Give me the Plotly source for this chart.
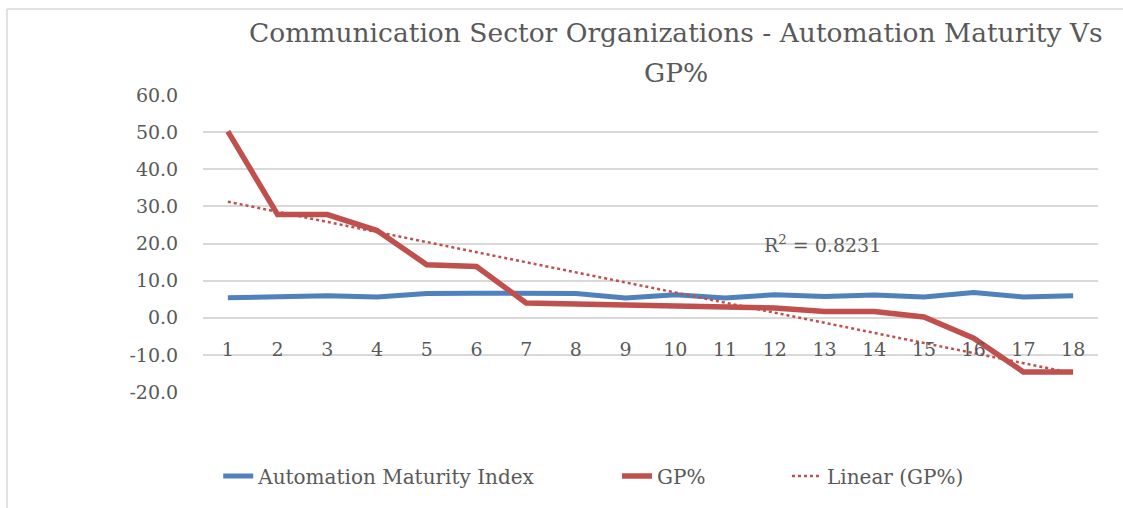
import numpy as np
import plotly.graph_objects as go

# <data>
orgs = list(range(1, 19))
automation_index = [5.4, 5.6, 5.9, 5.6, 6.5, 6.6, 6.6, 6.5, 5.3, 6.2, 5.3, 6.2, 5.7, 6.1, 5.6, 6.8, 5.6, 5.9]
gp_pct = [50.2, 27.8, 27.8, 23.5, 14.3, 13.8, 4.0, 3.7, 3.6, 3.4, 3.1, 2.6, 1.7, 1.7, 0.2, -5.5, -14.6, -14.6]
y_ticks = [60, 50, 40, 30, 20, 10, 0, -10, -20]
title_lines = ['Communication Sector Organizations - Automation Maturity Vs', 'GP%']
r2_label = "R<sup>2</sup> = 0.8231"
# </data>

BLUE = '#4f81bd'
RED = '#c0504d'
GRID = '#d9d9d9'
TXT = '#595959'
FONT = 'DejaVu Serif'

# linear trend line of GP%, fitted from the data
slope, icpt = np.polyfit(orgs, gp_pct, 1)
trend = [slope * x + icpt for x in orgs]

fig = go.Figure()
fig.add_trace(go.Scatter(x=orgs, y=automation_index, mode='lines', name='Automation Maturity Index',
                         line=dict(color=BLUE, width=5), legend='legend'))
fig.add_trace(go.Scatter(x=orgs, y=gp_pct, mode='lines', name='GP%',
                         line=dict(color=RED, width=5.5), legend='legend2'))
fig.add_trace(go.Scatter(x=orgs, y=trend, mode='lines', name='Linear (GP%)',
                         line=dict(color=RED, width=2.5, dash='dot'), legend='legend3'))

legend_common = dict(orientation='h', y=-0.283, yanchor='middle', xanchor='left',
                     font=dict(family=FONT, size=20, color=TXT), bgcolor='rgba(0,0,0,0)')

fig.update_layout(
    width=1123, height=508,
    autosize=False,
    paper_bgcolor='white',
    plot_bgcolor='white',
    margin=dict(l=203, r=25, t=95, b=116),
    font=dict(family=FONT, color=TXT),
    xaxis=dict(
        range=[0.5, 18.5],
        tickmode='array', tickvals=orgs, ticktext=[str(o) for o in orgs],
        showgrid=False, zeroline=False, showline=False,
        anchor='free', position=0.25,
        ticks='outside', ticklen=14, tickcolor='rgba(0,0,0,0)',
        tickfont=dict(family=FONT, size=19, color=TXT),
    ),
    yaxis=dict(
        range=[-20, 60],
        tickmode='array', tickvals=y_ticks, ticktext=[f'{v:.1f}' for v in y_ticks],
        showgrid=True, gridcolor=GRID, gridwidth=1.5,
        zeroline=True, zerolinecolor=GRID, zerolinewidth=1.5,
        showline=False,
        ticks='outside', ticklen=20, tickcolor='rgba(0,0,0,0)',
        tickfont=dict(family=FONT, size=19, color=TXT),
    ),
    legend=dict(x=0.017, **legend_common),
    legend2=dict(x=0.4626, **legend_common),
    legend3=dict(x=0.6525, **legend_common),
    showlegend=True,
)

# title, two lines as in the original
for txt, ypos in zip(title_lines, [1.2088, 1.0774]):
    fig.add_annotation(x=0.5285, y=ypos, xref='paper', yref='paper', text=txt, showarrow=False,
                       xanchor='center', yanchor='middle',
                       font=dict(family=FONT, size=26.5, color=TXT))

fig.add_annotation(x=12.95, y=20, xref='x', yref='y', text=r2_label, showarrow=False,
                   xanchor='center', yanchor='middle',
                   font=dict(family=FONT, size=19, color=TXT))

# chart frame (top and left edges visible)
fig.add_shape(type='line', xref='paper', yref='paper', x0=-0.219, x1=1.03, y0=1.2896, y1=1.2896,
              line=dict(color=GRID, width=1.5))
fig.add_shape(type='line', xref='paper', yref='paper', x0=-0.219, x1=-0.219, y0=1.2896, y1=-0.4,
              line=dict(color=GRID, width=1.5))

fig.write_html("out.html", config={'displayModeBar': False},
               post_script="document.body.style.margin='0';")
